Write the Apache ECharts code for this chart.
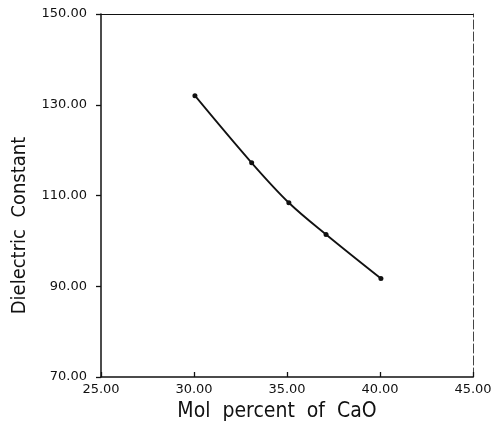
<!DOCTYPE html>
<html>
<head>
<meta charset="utf-8">
<script src="https://cdn.jsdelivr.net/npm/echarts@6/dist/echarts.min.js"></script>
<style>
  html, body { margin: 0; padding: 0; background: #fff; }
  #chart { width: 503px; height: 423px; }
</style>
</head>
<body>
<div id="chart"></div>
<script>
// mol % CaO vs dielectric constant
var molPercent = [30.05, 33.1, 35.1, 37.1, 40.05];
var dielectric = [132.0, 117.2, 108.4, 101.4, 91.7];

var points = [];
for (var i = 0; i < molPercent.length; i++) {
    points.push([molPercent[i], dielectric[i]]);
}

var chart = echarts.init(document.getElementById('chart'), null, { renderer: 'canvas' });

var labelFont = {
    color: '#111',
    fontFamily: 'DejaVu Sans',
    fontSize: 13
};
// narrow tall lettering of the axis titles
var nameFont = "'DejaVu Sans Condensed', 'DejaVu Sans'";

function fmt(v) {
    return v.toFixed(2);
}

var option = {
    animation: false,
    backgroundColor: '#fff',
    grid: {
        left: 101,
        right: 30,
        top: 14,
        bottom: 46,
        outerBoundsMode: 'none'
    },
    xAxis: [{
        type: 'value',
        min: 25,
        max: 45,
        interval: 5,
        position: 'bottom',
        name: 'Mol  percent  of  CaO',
        nameLocation: 'middle',
        nameGap: 24,
        nameTextStyle: { color: '#111', fontFamily: nameFont, fontSize: 21, padding: [0, 20, 0, 0] },
        axisLine: { onZero: false, lineStyle: { color: '#111', width: 1.5 } },
        axisTick: { show: true, inside: true, length: 5, lineStyle: { color: '#111', width: 1.3 } },
        axisLabel: Object.assign({ margin: 6, formatter: fmt }, labelFont),
        splitLine: { show: false }
    }, {
        type: 'value',
        min: 25,
        max: 45,
        position: 'top',
        axisLine: { onZero: false, lineStyle: { color: '#111', width: 1.2 } },
        axisTick: { show: false },
        axisLabel: { show: false },
        splitLine: { show: false }
    }],
    yAxis: [{
        type: 'value',
        min: 70,
        max: 150,
        interval: 20,
        position: 'left',
        name: 'Dielectric  Constant',
        nameLocation: 'middle',
        nameGap: 71,
        nameTextStyle: { color: '#111', fontFamily: nameFont, fontSize: 20, padding: [0, 60, 0, 0] },
        axisLine: { onZero: false, lineStyle: { color: '#111', width: 1.5 } },
        axisTick: { show: true, inside: false, length: 5, lineStyle: { color: '#111', width: 1.3 } },
        axisLabel: Object.assign({ margin: 14, formatter: fmt }, labelFont),
        splitLine: { show: false }
    }, {
        type: 'value',
        min: 70,
        max: 150,
        position: 'right',
        axisLine: { onZero: false, lineStyle: { color: '#444', width: 1, type: [9, 3] } },
        axisTick: { show: false },
        axisLabel: { show: false },
        splitLine: { show: false }
    }],
    series: [{
        type: 'line',
        data: points,
        smooth: 0.35,
        symbol: 'circle',
        symbolSize: 5,
        itemStyle: { color: '#111' },
        lineStyle: { color: '#111', width: 1.8 }
    }]
};

chart.setOption(option);
</script>
</body>
</html>
